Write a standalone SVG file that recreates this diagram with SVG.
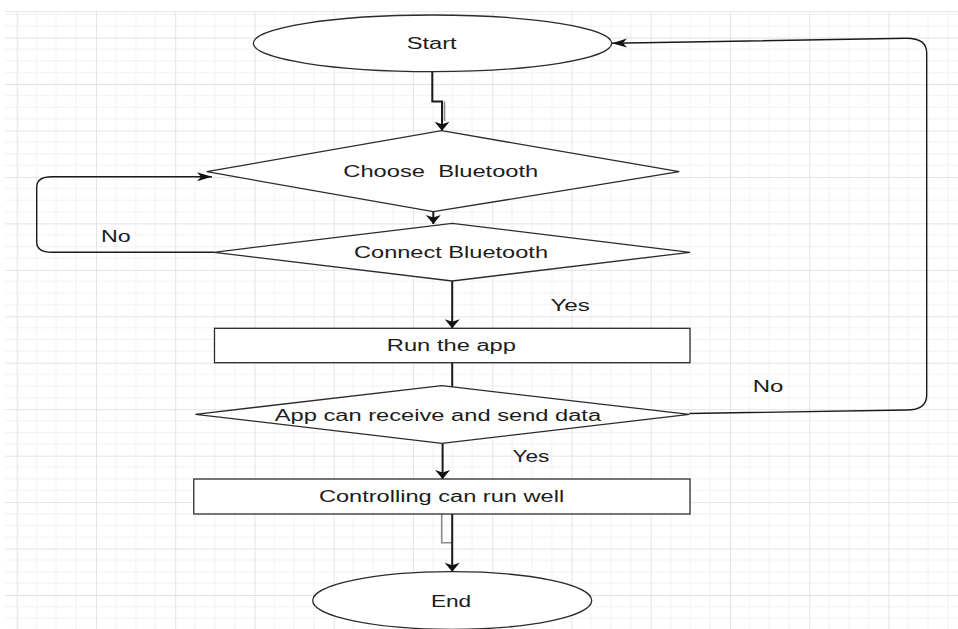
<svg xmlns="http://www.w3.org/2000/svg" width="958" height="629" viewBox="0 0 958 629">
  <defs>
    <!-- background grid: major cell 79.25 x 46.45, quartered -->
    <pattern id="grid" patternUnits="userSpaceOnUse" x="16.7" y="37.6" width="79.25" height="46.45">
      <g stroke="#f1f1f1" stroke-width="1" fill="none">
        <path d="M19.8,0 V46.45 M39.6,0 V46.45 M59.4,0 V46.45"/>
        <path d="M0,11.6 H79.25 M0,23.2 H79.25 M0,34.8 H79.25"/>
      </g>
      <g stroke="#e3e3e3" stroke-width="1" fill="none">
        <path d="M0.5,0 V46.45 M0,0.5 H79.25"/>
      </g>
    </pattern>
    <!-- arrowheads: tall/narrow for vertical runs, long/flat for horizontal runs -->
    <marker id="arrow-v" markerUnits="userSpaceOnUse" orient="auto" refX="9" refY="0" overflow="visible">
      <path d="M0,-7.5 L9,0 L0,7.5 L2.5,0 Z" fill="#111"/>
    </marker>
    <marker id="arrow-h" markerUnits="userSpaceOnUse" orient="auto" refX="15" refY="0" overflow="visible">
      <path d="M0,-4.5 L15,0 L0,4.5 L4,0 Z" fill="#111"/>
    </marker>
  </defs>
  <style>
    .shape { fill: #ffffff; stroke: #2b2b2b; stroke-width: 1.3; }
    .label { font-family: "Liberation Sans", Arial, sans-serif; font-size: 16px; fill: #1c1c1c; white-space: pre; }
    .edge { fill: none; stroke: #1a1a1a; stroke-width: 1.4; }
    .edge-main { fill: none; stroke: #1a1a1a; stroke-width: 2; }
    .edge-ghost { fill: none; stroke: #8a8a8a; stroke-width: 1.6; }
  </style>

  <!-- canvas -->
  <rect x="0" y="0" width="958" height="629" fill="#ffffff"/>
  <rect x="5" y="11" width="953" height="618" fill="url(#grid)"/>
  <path d="M5,11.5 H958" stroke="#e6e6e6" stroke-width="1"/>

  <!-- connectors -->
  <g id="connectors">
    <!-- Start -> Choose Bluetooth -->
    <path class="edge-ghost" d="M444.5,101.5 V121"/>
    <path class="edge-main" d="M432.3,71.7 V101.5 H442 V130.7" marker-end="url(#arrow-v)"/>
    <!-- Choose Bluetooth -> Connect Bluetooth -->
    <path class="edge-main" d="M433.3,211.7 V224" marker-end="url(#arrow-v)"/>
    <!-- Connect Bluetooth: No, back to Choose Bluetooth -->
    <path class="edge" d="M214,252.3 H52 Q36.7,252.3 36.7,242 V187 Q36.7,176.7 52,176.7 H212" marker-end="url(#arrow-h)"/>
    <!-- Connect Bluetooth: Yes -> Run the app -->
    <path class="edge-main" d="M452.2,281 V328.3" marker-end="url(#arrow-v)"/>
    <!-- Run the app -> App can receive and send data -->
    <path class="edge-main" d="M452.2,362.7 V387"/>
    <!-- App check: No, back to Start -->
    <path class="edge" d="M689.3,413.5 L906.7,410 Q926.7,410 926.7,395 V53 Q926.7,38.3 906.7,38.3 L612,43.3" marker-end="url(#arrow-h)"/>
    <!-- App check: Yes -> Controlling can run well -->
    <path class="edge-main" d="M442.6,443.3 V479" marker-end="url(#arrow-v)"/>
    <!-- Controlling can run well -> End -->
    <path class="edge-ghost" d="M441.7,514 V542.7 H452.2"/>
    <path class="edge-main" d="M452.2,514 V571.7" marker-end="url(#arrow-v)"/>
  </g>

  <!-- nodes -->
  <g id="start">
    <ellipse class="shape" cx="432.5" cy="43.3" rx="179.2" ry="28.3"/>
    <text class="label" x="406.7" y="49.2" textLength="50" lengthAdjust="spacingAndGlyphs">Start</text>
  </g>

  <g id="choose-bluetooth">
    <polygon class="shape" points="441.7,130.7 679.3,171.7 433.3,211.7 206.7,171.7"/>
    <text class="label" x="343.3" y="177" textLength="195" lengthAdjust="spacingAndGlyphs">Choose  Bluetooth</text>
  </g>

  <g id="connect-bluetooth">
    <polygon class="shape" points="452.2,223.3 690,252.3 452.2,281 214,252.3"/>
    <text class="label" x="354" y="258.3" textLength="194" lengthAdjust="spacingAndGlyphs">Connect Bluetooth</text>
  </g>

  <g id="run-app">
    <rect class="shape" x="214.5" y="328.3" width="475.5" height="34.4"/>
    <text class="label" x="386.8" y="351" textLength="129.2" lengthAdjust="spacingAndGlyphs">Run the app</text>
  </g>

  <g id="app-data-check">
    <polygon class="shape" points="441.9,385.7 689.3,414.3 441.9,443.3 195.5,414.3"/>
    <text class="label" x="274.8" y="420.5" textLength="326.3" lengthAdjust="spacingAndGlyphs">App can receive and send data</text>
  </g>

  <g id="controlling">
    <rect class="shape" x="193.8" y="479" width="496.2" height="35"/>
    <text class="label" x="318.9" y="502.3" textLength="245.3" lengthAdjust="spacingAndGlyphs">Controlling can run well</text>
  </g>

  <g id="end">
    <ellipse class="shape" cx="452.2" cy="600.5" rx="139.5" ry="28.8"/>
    <text class="label" x="430.9" y="606.7" textLength="40.3" lengthAdjust="spacingAndGlyphs">End</text>
  </g>

  <!-- branch labels -->
  <g id="edge-labels">
    <text class="label" x="101" y="241.7" textLength="29.7" lengthAdjust="spacingAndGlyphs">No</text>
    <text class="label" x="550.4" y="311" textLength="39.6" lengthAdjust="spacingAndGlyphs">Yes</text>
    <text class="label" x="752.7" y="392.3" textLength="30.7" lengthAdjust="spacingAndGlyphs">No</text>
    <text class="label" x="512.5" y="461.7" textLength="36.9" lengthAdjust="spacingAndGlyphs">Yes</text>
  </g>
</svg>
